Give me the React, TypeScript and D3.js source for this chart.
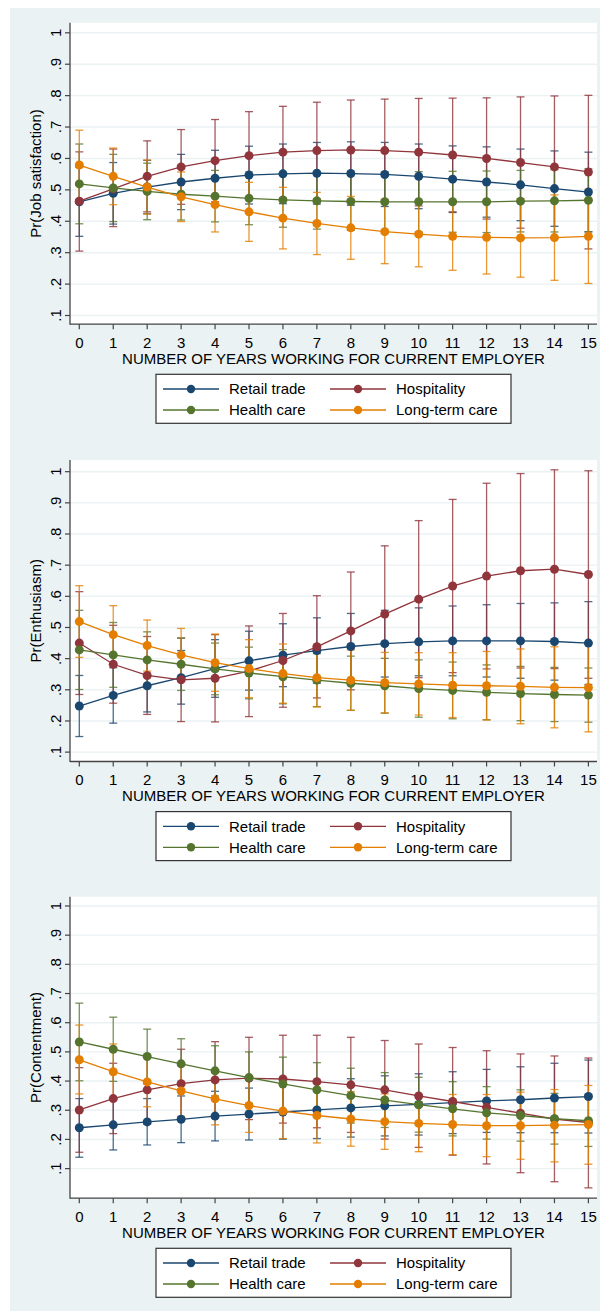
import React from "react";
import * as d3 from "d3";

// years on the x axis
const years = [0, 1, 2, 3, 4, 5, 6, 7, 8, 9, 10, 11, 12, 13, 14, 15];
const yTicks = [0.1, 0.2, 0.3, 0.4, 0.5, 0.6, 0.7, 0.8, 0.9, 1];
const sectors = ["Retail trade", "Hospitality", "Health care", "Long-term care"];
const sectorColors = ["#1A476F", "#90353B", "#55752F", "#E37E00"];
const panelTitles = ["Pr(Job satisfaction)", "Pr(Enthusiasm)", "Pr(Contentment)"];
const xTitle = "NUMBER OF YEARS WORKING FOR CURRENT EMPLOYER";

// Job satisfaction
const jobRetail = [0.462, 0.489, 0.509, 0.525, 0.537, 0.547, 0.551, 0.553, 0.552, 0.549, 0.543, 0.534, 0.525, 0.516, 0.504, 0.493];
const jobRetailLo = [0.352, 0.391, 0.424, 0.437, 0.448, 0.455, 0.456, 0.455, 0.451, 0.447, 0.44, 0.428, 0.413, 0.402, 0.384, 0.366];
const jobRetailHi = [0.572, 0.587, 0.594, 0.613, 0.626, 0.639, 0.646, 0.651, 0.653, 0.651, 0.646, 0.64, 0.637, 0.63, 0.624, 0.62];
const jobHosp = [0.464, 0.503, 0.543, 0.573, 0.593, 0.609, 0.62, 0.625, 0.627, 0.625, 0.62, 0.611, 0.6, 0.587, 0.573, 0.557];
const jobHospLo = [0.305, 0.383, 0.43, 0.454, 0.462, 0.469, 0.474, 0.471, 0.468, 0.461, 0.449, 0.43, 0.407, 0.378, 0.347, 0.312];
const jobHospHi = [0.621, 0.63, 0.656, 0.692, 0.724, 0.749, 0.766, 0.779, 0.786, 0.789, 0.791, 0.792, 0.793, 0.796, 0.799, 0.801];
const jobHealth = [0.519, 0.506, 0.495, 0.486, 0.48, 0.473, 0.468, 0.465, 0.463, 0.462, 0.462, 0.462, 0.462, 0.464, 0.465, 0.467];
const jobHealthLo = [0.392, 0.399, 0.405, 0.404, 0.398, 0.389, 0.381, 0.375, 0.371, 0.368, 0.366, 0.365, 0.364, 0.366, 0.366, 0.367];
const jobHealthHi = [0.646, 0.613, 0.585, 0.568, 0.562, 0.557, 0.555, 0.555, 0.555, 0.556, 0.558, 0.559, 0.56, 0.562, 0.564, 0.567];
const jobLtc = [0.579, 0.543, 0.509, 0.478, 0.453, 0.43, 0.41, 0.393, 0.379, 0.367, 0.359, 0.352, 0.349, 0.347, 0.348, 0.352];
const jobLtcLo = [0.469, 0.453, 0.423, 0.399, 0.366, 0.336, 0.312, 0.294, 0.279, 0.265, 0.255, 0.244, 0.232, 0.222, 0.212, 0.202];
const jobLtcHi = [0.69, 0.633, 0.595, 0.557, 0.54, 0.524, 0.508, 0.492, 0.479, 0.469, 0.463, 0.46, 0.466, 0.472, 0.484, 0.502];

// Enthusiasm
const entRetail = [0.248, 0.282, 0.313, 0.339, 0.368, 0.393, 0.411, 0.426, 0.439, 0.448, 0.454, 0.457, 0.457, 0.457, 0.455, 0.45];
const entRetailLo = [0.15, 0.193, 0.229, 0.254, 0.276, 0.299, 0.31, 0.321, 0.333, 0.341, 0.345, 0.345, 0.341, 0.337, 0.331, 0.317];
const entRetailHi = [0.346, 0.371, 0.397, 0.426, 0.461, 0.488, 0.512, 0.531, 0.545, 0.555, 0.563, 0.569, 0.573, 0.577, 0.579, 0.583];
const entHosp = [0.45, 0.382, 0.346, 0.332, 0.337, 0.36, 0.394, 0.438, 0.489, 0.543, 0.591, 0.633, 0.665, 0.682, 0.687, 0.67];
const entHospLo = [0.285, 0.257, 0.221, 0.198, 0.197, 0.214, 0.244, 0.274, 0.3, 0.324, 0.339, 0.355, 0.367, 0.37, 0.368, 0.337];
const entHospHi = [0.615, 0.507, 0.471, 0.466, 0.477, 0.505, 0.545, 0.602, 0.678, 0.762, 0.843, 0.911, 0.963, 0.994, 1.006, 1.003];
const entHealth = [0.428, 0.412, 0.396, 0.382, 0.367, 0.354, 0.342, 0.331, 0.321, 0.313, 0.304, 0.298, 0.292, 0.288, 0.285, 0.283];
const entHealthLo = [0.301, 0.308, 0.306, 0.298, 0.284, 0.271, 0.255, 0.246, 0.234, 0.225, 0.212, 0.207, 0.204, 0.201, 0.198, 0.196];
const entHealthHi = [0.555, 0.516, 0.486, 0.466, 0.45, 0.437, 0.429, 0.416, 0.408, 0.401, 0.396, 0.389, 0.38, 0.375, 0.372, 0.37];
const entLtc = [0.519, 0.477, 0.442, 0.412, 0.387, 0.368, 0.352, 0.339, 0.331, 0.323, 0.319, 0.315, 0.313, 0.311, 0.308, 0.307];
const entLtcLo = [0.404, 0.384, 0.36, 0.327, 0.295, 0.275, 0.257, 0.245, 0.234, 0.226, 0.219, 0.211, 0.203, 0.191, 0.178, 0.165];
const entLtcHi = [0.634, 0.57, 0.524, 0.497, 0.479, 0.461, 0.447, 0.433, 0.428, 0.42, 0.419, 0.419, 0.423, 0.431, 0.438, 0.449];

// Contentment
const conRetail = [0.24, 0.25, 0.26, 0.269, 0.28, 0.287, 0.294, 0.301, 0.308, 0.315, 0.32, 0.326, 0.332, 0.336, 0.342, 0.347];
const conRetailLo = [0.139, 0.164, 0.181, 0.189, 0.195, 0.198, 0.201, 0.203, 0.208, 0.212, 0.215, 0.22, 0.224, 0.223, 0.223, 0.222];
const conRetailHi = [0.34, 0.336, 0.34, 0.349, 0.365, 0.376, 0.387, 0.399, 0.408, 0.418, 0.425, 0.432, 0.44, 0.449, 0.461, 0.472];
const conHosp = [0.301, 0.34, 0.37, 0.391, 0.404, 0.41, 0.407, 0.398, 0.387, 0.37, 0.349, 0.33, 0.31, 0.29, 0.27, 0.258];
const conHospLo = [0.156, 0.22, 0.252, 0.273, 0.273, 0.268, 0.256, 0.24, 0.224, 0.201, 0.173, 0.146, 0.116, 0.086, 0.055, 0.034];
const conHospHi = [0.446, 0.461, 0.488, 0.509, 0.535, 0.55, 0.557, 0.557, 0.55, 0.539, 0.527, 0.515, 0.504, 0.493, 0.486, 0.479];
const conHealth = [0.534, 0.509, 0.484, 0.459, 0.435, 0.412, 0.39, 0.37, 0.35, 0.335, 0.319, 0.305, 0.291, 0.282, 0.271, 0.264];
const conHealthLo = [0.401, 0.399, 0.39, 0.373, 0.349, 0.324, 0.298, 0.277, 0.256, 0.241, 0.225, 0.212, 0.201, 0.194, 0.184, 0.176];
const conHealthHi = [0.667, 0.619, 0.578, 0.545, 0.521, 0.5, 0.482, 0.463, 0.444, 0.429, 0.413, 0.398, 0.381, 0.37, 0.358, 0.352];
const conLtc = [0.473, 0.432, 0.397, 0.366, 0.339, 0.316, 0.297, 0.282, 0.27, 0.261, 0.255, 0.251, 0.247, 0.247, 0.249, 0.251];
const conLtcLo = [0.356, 0.337, 0.312, 0.279, 0.25, 0.224, 0.203, 0.188, 0.177, 0.166, 0.158, 0.148, 0.141, 0.132, 0.123, 0.115];
const conLtcHi = [0.592, 0.527, 0.482, 0.453, 0.429, 0.409, 0.392, 0.377, 0.364, 0.356, 0.352, 0.354, 0.354, 0.362, 0.371, 0.385];

const panelData = [
  [[jobRetail, jobRetailLo, jobRetailHi], [jobHosp, jobHospLo, jobHospHi], [jobHealth, jobHealthLo, jobHealthHi], [jobLtc, jobLtcLo, jobLtcHi]],
  [[entRetail, entRetailLo, entRetailHi], [entHosp, entHospLo, entHospHi], [entHealth, entHealthLo, entHealthHi], [entLtc, entLtcLo, entLtcHi]],
  [[conRetail, conRetailLo, conRetailHi], [conHosp, conHospLo, conHospHi], [conHealth, conHealthLo, conHealthHi], [conLtc, conLtcLo, conLtcHi]],
];

// layout
const W = 600;
const H = 1311;
const BG = "#EAF2F3";
const FONT = "'Liberation Sans', Arial, sans-serif";
const plotLeft = 70;
const plotRight = 597;
const plotH = 301.5;
const panelTops = [22.7, 460, 896.7];
const yDomains = [[0.0723, 1.0322], [0.0699, 1.0375], [-0.0014, 1.0318]];

const x = d3.scaleLinear().domain([0, 15]).range([79.3, 588.4]);

const fmt = (v: number) => (v >= 1 ? "1" : "." + Math.round(v * 10));

function Panel({ idx }: { idx: number }) {
  const top = panelTops[idx];
  const bottom = top + plotH;
  const y = d3.scaleLinear().domain(yDomains[idx]).range([bottom, top]);
  const line = d3.line<number>().x((_, i) => x(years[i])).y((v) => y(v));
  const series = panelData[idx];
  const legTop = top + 351.6;
  const midY = (top + bottom) / 2;

  return (
    <g>
      <rect x={plotLeft} y={top} width={plotRight - plotLeft} height={plotH} fill="#fff" />
      {yTicks.map((t) => (
        <line key={"g" + t} x1={plotLeft} x2={plotRight} y1={y(t)} y2={y(t)} stroke={BG} strokeWidth={1.4} />
      ))}
      {/* confidence intervals */}
      {series.map(([, lo, hi], s) => (
        <g key={"ci" + s} stroke={sectorColors[s]} strokeWidth={1.3} strokeOpacity={0.8} fill="none">
          {years.map((yr, i) => (
            <g key={i}>
              <line x1={x(yr)} x2={x(yr)} y1={y(lo[i])} y2={y(hi[i])} />
              <line x1={x(yr) - 4} x2={x(yr) + 4} y1={y(lo[i])} y2={y(lo[i])} />
              <line x1={x(yr) - 4} x2={x(yr) + 4} y1={y(hi[i])} y2={y(hi[i])} />
            </g>
          ))}
        </g>
      ))}
      {/* estimates */}
      {series.map(([est], s) => (
        <g key={"s" + s}>
          <path d={line(est) || ""} fill="none" stroke={sectorColors[s]} strokeWidth={1.3} />
          {est.map((v, i) => (
            <circle key={i} cx={x(years[i])} cy={y(v)} r={4.5} fill={sectorColors[s]} />
          ))}
        </g>
      ))}
      {/* axes */}
      <line x1={plotLeft} x2={plotLeft} y1={top} y2={bottom + 0.5} stroke="#444" strokeWidth={1.3} />
      <line x1={plotLeft} x2={plotRight} y1={bottom} y2={bottom} stroke="#444" strokeWidth={1.3} />
      {yTicks.map((t) => (
        <g key={"yt" + t}>
          <line x1={plotLeft - 5} x2={plotLeft} y1={y(t)} y2={y(t)} stroke="#444" strokeWidth={1.2} />
          <text transform={`translate(61,${y(t)}) rotate(-90)`} textAnchor="middle" fontSize={15} fill="#000">
            {fmt(t)}
          </text>
        </g>
      ))}
      {years.map((yr) => (
        <g key={"xt" + yr}>
          <line x1={x(yr)} x2={x(yr)} y1={bottom} y2={bottom + 5} stroke="#444" strokeWidth={1.2} />
          <text x={x(yr)} y={bottom + 23.3} textAnchor="middle" fontSize={15} fill="#000">
            {yr}
          </text>
        </g>
      ))}
      <text x={(plotLeft + plotRight) / 2} y={bottom + 39.5} textAnchor="middle" fontSize={15} fill="#000">
        {xTitle}
      </text>
      <text transform={`translate(41,${midY}) rotate(-90)`} textAnchor="middle" fontSize={15} fill="#000">
        {panelTitles[idx]}
      </text>
      {/* legend */}
      <rect x={156} y={legTop} width={355} height={49} fill="#fff" stroke="#333" strokeWidth={1.2} />
      {sectors.map((name, s) => {
        const col = s % 2;
        const row = Math.floor(s / 2);
        const lx = col === 0 ? 163 : 330;
        const ly = legTop + 14.7 + row * 21;
        return (
          <g key={name}>
            <line x1={lx} x2={lx + 56} y1={ly} y2={ly} stroke={sectorColors[s]} strokeWidth={1.3} />
            <circle cx={lx + 28} cy={ly} r={4.2} fill={sectorColors[s]} />
            <text x={lx + 66} y={ly + 5.4} fontSize={15} fill="#000">
              {name}
            </text>
          </g>
        );
      })}
    </g>
  );
}

export default function App() {
  return (
    <svg
      width={W}
      height={H}
      viewBox={`0 0 ${W} ${H}`}
      style={{ position: "absolute", left: 0, top: 0, fontFamily: FONT }}
    >
      <rect x={0} y={0} width={W} height={H} fill="#fff" />
      <rect x={10} y={8} width={W - 10} height={H - 8} fill={BG} />
      {panelTitles.map((_, i) => (
        <Panel key={i} idx={i} />
      ))}
    </svg>
  );
}
